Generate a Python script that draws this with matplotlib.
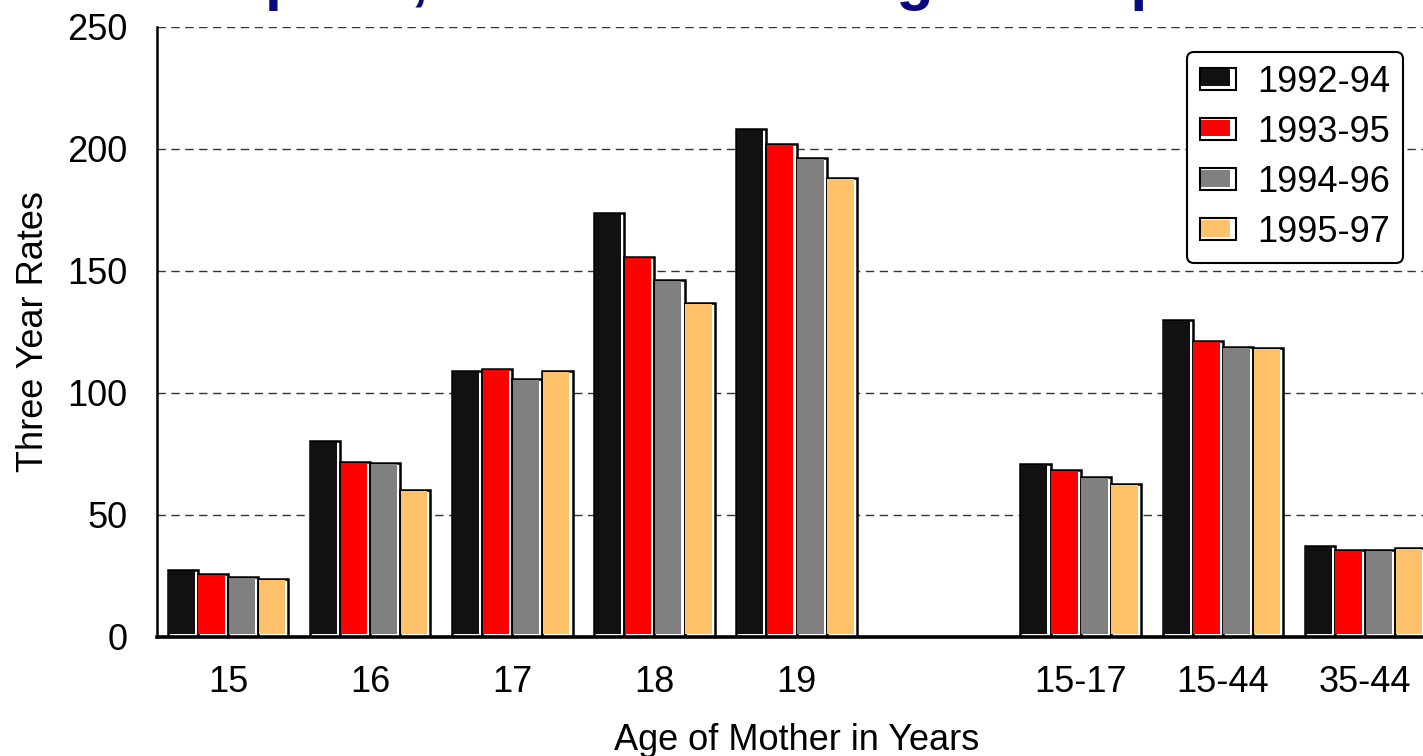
import numpy as np
import matplotlib
matplotlib.use("Agg")
import matplotlib.pyplot as plt
from matplotlib.patches import Rectangle
from matplotlib.legend_handler import HandlerBase

plt.rcParams['font.family'] = ['Liberation Sans', 'DejaVu Sans']

# age groups (blank slot separates single years from the ranges)
ages = ["15", "16", "17", "18", "19", "", "15-17", "15-44", "35-44"]
periods = ["1992-94", "1993-95", "1994-96", "1995-97"]
colors = ["#111111", "#FF0000", "#808080", "#FFC26B"]

rate_9294 = [27.5, 80.3, 109.0, 173.8, 208.2, np.nan, 70.9, 129.9, 37.3]
rate_9395 = [26.0, 71.7, 109.8, 155.7, 202.0, np.nan, 68.4, 121.3, 35.7]
rate_9496 = [24.6, 71.3, 105.7, 146.3, 196.3, np.nan, 65.6, 118.9, 35.7]
rate_9597 = [23.8, 60.2, 109.0, 136.9, 188.1, np.nan, 62.7, 118.4, 36.5]
rates = [rate_9294, rate_9395, rate_9496, rate_9597]

fig = plt.figure(figsize=(14.23, 7.56), dpi=100)
ax = fig.add_axes([157 / 1423, 119 / 756, 1279 / 1423, 610 / 756])

x = np.arange(len(ages))
w = 0.212
gap_x = 0.026   # white strip on the right of each bar
gap_y = 1.3     # white strip at the bottom of each bar

for i, (vals, c) in enumerate(zip(rates, colors)):
    left = x + (i - 2) * w
    vals = np.array(vals)
    ax.bar(left, vals, w, align='edge', facecolor='white',
           edgecolor='black', linewidth=1.8, zorder=3)
    ax.bar(left + 0.004, vals - gap_y - 0.5, w - gap_x, bottom=gap_y,
           align='edge', color=c, linewidth=0, zorder=4)


class ShadowBoxHandler(HandlerBase):
    def __init__(self, color):
        super().__init__()
        self.color = color

    def create_artists(self, legend, orig_handle, xdescent, ydescent,
                       width, height, fontsize, trans):
        outer = Rectangle((-xdescent, -ydescent), width, height,
                          facecolor='white', edgecolor='black', lw=1.5,
                          transform=trans)
        inner = Rectangle((-xdescent + 1, -ydescent + 2.5), width - 5,
                          height - 3.5, facecolor=self.color, lw=0,
                          transform=trans)
        return [outer, inner]


handles = [Rectangle((0, 0), 1, 1) for _ in colors]
leg = ax.legend(handles, periods, loc='upper right',
                bbox_to_anchor=((1403 - 157) / 1279, (637 - 52) / 610),
                handler_map={h: ShadowBoxHandler(c) for h, c in zip(handles, colors)},
                fontsize=26, handlelength=1.0, handleheight=0.55,
                handletextpad=0.6, labelspacing=0.42, borderpad=0.35,
                borderaxespad=0, fancybox=True, framealpha=1,
                edgecolor='black')
leg.get_frame().set_linewidth(1.5)
leg.set_zorder(10)

ax.set_xlim(-0.5, len(ages) - 0.5)
ax.set_ylim(0, 250)
ax.set_yticks([0, 50, 100, 150, 200, 250])
ax.set_xticks(x)
ax.set_xticklabels(ages)
ax.tick_params(axis='both', length=0, labelsize=26)
ax.tick_params(axis='y', pad=21)
ax.tick_params(axis='x', pad=20)

ax.yaxis.grid(True, linestyle=(0, (6, 4)), color='#333333', linewidth=1.0, zorder=0)
ax.set_axisbelow(True)
for s in ['top', 'right']:
    ax.spines[s].set_visible(False)
ax.spines['left'].set_linewidth(1.8)
ax.spines['bottom'].set_linewidth(2.6)
ax.spines['bottom'].set_zorder(5)

ax.set_ylabel("Three Year Rates", fontsize=26, labelpad=12)
ax.set_xlabel("Age of Mother in Years", fontsize=26, labelpad=17)

# title sits mostly above the top edge, only descenders show
fig.text(716 / 1423, 1 + 2 / 756, "per 1,000 Women in Age Group",
         ha='center', va='baseline', fontsize=44, fontweight='bold',
         color='#0A0A80')

fig.savefig("out.png", dpi=100)
